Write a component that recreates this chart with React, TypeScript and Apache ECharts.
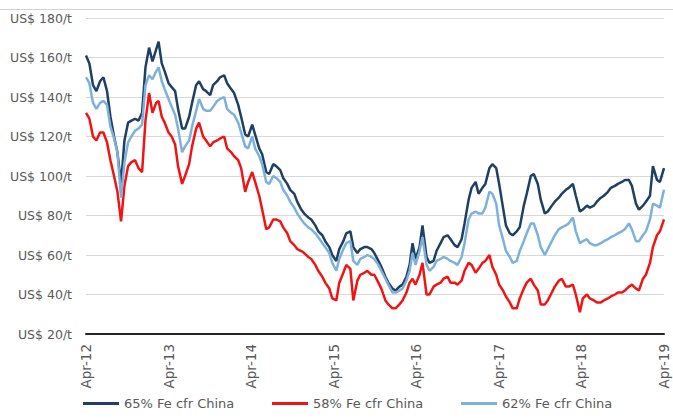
import React, { useEffect, useRef } from "react";
import * as echarts from "echarts";

// Iron ore fines price, cfr China, semi-monthly observations
const dates = [
  "2012-04-01","2012-04-16","2012-05-02","2012-05-17","2012-06-02","2012-06-17","2012-07-03","2012-07-18","2012-08-03","2012-08-18","2012-09-03","2012-09-18","2012-10-04","2012-10-19","2012-11-04","2012-11-19","2012-12-05","2012-12-20",
  "2013-01-05","2013-01-20","2013-02-05","2013-02-16","2013-03-02","2013-03-15","2013-04-01","2013-04-15","2013-04-30","2013-05-13","2013-05-31","2013-06-13","2013-07-01","2013-07-14","2013-08-01","2013-08-14","2013-09-01","2013-09-14","2013-10-02","2013-10-15","2013-11-02","2013-11-15","2013-12-03","2013-12-16",
  "2014-01-03","2014-01-16","2014-02-03","2014-02-16","2014-03-06","2014-03-19","2014-04-06","2014-04-19","2014-05-07","2014-05-20","2014-06-07","2014-06-20","2014-07-08","2014-07-21","2014-08-08","2014-08-21","2014-09-08","2014-09-21","2014-10-09","2014-10-22","2014-11-09","2014-11-22","2014-12-10","2014-12-23",
  "2015-01-10","2015-01-23","2015-02-10","2015-02-23","2015-03-13","2015-03-26","2015-04-13","2015-04-26","2015-05-14","2015-05-27","2015-06-14","2015-06-27","2015-07-15","2015-07-28","2015-08-15","2015-08-28","2015-09-15","2015-09-28","2015-10-16","2015-10-29","2015-11-16","2015-11-29","2015-12-17","2015-12-31",
  "2016-01-17","2016-01-31","2016-02-17","2016-03-02","2016-03-15","2016-03-28","2016-04-15","2016-04-28","2016-05-16","2016-05-29","2016-06-16","2016-06-29","2016-07-17","2016-07-30","2016-08-17","2016-08-30","2016-09-17","2016-09-30","2016-10-18","2016-10-31","2016-11-18","2016-12-01","2016-12-19",
  "2017-01-01","2017-01-18","2017-01-31","2017-02-18","2017-03-03","2017-03-20","2017-04-02","2017-04-19","2017-05-02","2017-05-19","2017-06-01","2017-06-19","2017-07-02","2017-07-20","2017-08-02","2017-08-20","2017-09-02","2017-09-20","2017-10-03","2017-10-21","2017-11-03","2017-11-21","2017-12-04","2017-12-22",
  "2018-01-04","2018-01-22","2018-02-04","2018-02-22","2018-03-07","2018-03-25","2018-04-07","2018-04-25","2018-05-08","2018-05-26","2018-06-08","2018-06-26","2018-07-09","2018-07-27","2018-08-09","2018-08-27","2018-09-09","2018-09-27","2018-10-10","2018-10-28","2018-11-10","2018-11-28","2018-12-11","2018-12-29",
  "2019-01-11","2019-01-29","2019-02-11","2019-03-01","2019-03-14","2019-04-01",
];

// 65% Fe cfr China, US$/t
const fe65 = [
  161,157,146,143,148,150,143,130,120,112,96,118,127,128,129,128,132,155,
  165,158,164,168,157,153,147,145,143,134,124,124,130,137,146,148,144,143,141,146,148,150,151,147,
  144,142,136,130,121,120,126,121,114,111,102,101,106,105,103,99,96,93,91,87,83,81,79,78,
  75,72,70,67,64,60,57,63,67,71,72,64,61,63,64,64,63,61,57,54,49,46,43,42,
  44,45,49,55,66,58,64,75,59,56,57,62,66,69,70,68,65,64,68,76,88,94,97,
  91,94,96,104,106,104,96,84,75,71,70,72,74,85,91,100,101,96,88,81,82,85,87,89,
  91,93,94,96,90,82,83,85,84,85,87,89,90,92,94,95,96,97,98,98,95,86,83,85,
  87,90,105,98,97,104,
];

// 58% Fe cfr China, US$/t
const fe58 = [
  132,129,120,118,122,122,117,108,100,92,77,95,105,107,108,104,102,128,
  142,132,137,138,130,127,122,120,116,105,96,100,106,115,124,127,120,118,115,117,118,119,120,114,
  112,110,108,104,92,97,102,97,90,83,73,74,78,78,77,74,71,67,65,63,62,61,59,58,
  55,52,49,46,43,38,37,46,51,55,53,37,47,50,51,52,50,50,46,43,37,35,33,33,
  35,37,41,46,48,45,50,56,40,40,44,45,46,48,49,46,46,45,47,52,56,55,51,
  53,56,57,60,54,50,45,42,39,36,33,33,38,43,46,48,45,42,35,35,37,41,44,47,
  48,44,44,45,40,31,38,40,38,37,36,36,37,38,39,40,41,41,42,44,45,43,42,48,
  50,56,64,70,72,78,
];

// 62% Fe cfr China, US$/t
const fe62 = [
  150,147,137,134,137,138,136,125,119,112,89,107,117,120,123,124,126,146,
  151,149,153,155,148,144,139,135,131,124,112,115,118,125,133,139,134,133,133,135,138,139,140,134,
  132,131,127,122,115,114,120,114,110,106,97,96,100,99,97,93,90,87,84,81,78,76,74,73,
  71,69,66,64,61,56,52,58,63,66,67,57,55,58,59,60,59,58,55,52,48,45,41,41,
  42,43,47,52,61,55,62,69,55,52,54,57,58,59,58,57,56,55,59,66,78,81,82,
  81,81,84,92,91,86,75,68,62,59,56,57,62,67,71,76,76,70,64,60,63,67,70,73,
  74,75,76,79,72,66,67,68,66,65,65,66,67,68,69,70,71,72,73,76,73,67,67,70,
  72,78,86,85,84,93,
];

const seriesNames = ["65% Fe cfr China", "58% Fe cfr China", "62% Fe cfr China"];
const seriesColors = ["#1f3f63", "#f01414", "#7db1db"];
const axisStart = "2012-04-01";
const axisEnd = "2019-04-01";
const yTicks = { min: 20, max: 180, step: 20 };

const FONT = "DejaVu Sans";
const TEXT = "#595959";

export default function App() {
  const ref = useRef<HTMLDivElement>(null);

  useEffect(() => {
    if (!ref.current) return;
    const chart = echarts.init(ref.current, undefined, { renderer: "svg" });
    const t0 = Date.parse(axisStart);
    const t1 = Date.parse(axisEnd);
    const pair = (vals: number[]) => dates.map((d, i) => [Date.parse(d), vals[i]]);
    const values = [fe65, fe58, fe62];
    const legendLeft = [83, 272, 461];

    chart.setOption({
      animation: false,
      backgroundColor: "#ffffff",
      grid: { left: 86, right: 9, top: 18, bottom: 84 },
      xAxis: {
        type: "value",
        min: t0,
        max: t1,
        interval: (t1 - t0) / 7,
        axisLine: { show: true, lineStyle: { color: "#262626", width: 2 } },
        axisTick: { show: false },
        splitLine: { show: false },
        axisLabel: {
          rotate: 90,
          margin: 10,
          color: TEXT,
          fontFamily: FONT,
          fontSize: 13.5,
          formatter: (v: number) => {
            const yr = new Date(v + 15 * 86400000).getUTCFullYear();
            return "Apr-" + String(yr).slice(2);
          },
        },
      },
      yAxis: {
        type: "value",
        min: yTicks.min,
        max: yTicks.max,
        interval: yTicks.step,
        axisLine: { show: false },
        axisTick: { show: false },
        splitLine: { lineStyle: { color: "#d9d9d9", width: 1 } },
        axisLabel: {
          margin: 14,
          color: TEXT,
          fontFamily: FONT,
          fontSize: 12.5,
          formatter: "US$ {value}/t",
        },
      },
      legend: seriesNames.map((name, i) => ({
        data: [name],
        left: legendLeft[i],
        top: 397,
        padding: 0,
        icon: "rect",
        itemWidth: 36,
        itemHeight: 3,
        textStyle: { color: TEXT, fontFamily: FONT, fontSize: 13 },
      })),
      graphic: [
        {
          type: "line",
          shape: { x1: 0, y1: 9.5, x2: 673, y2: 9.5 },
          style: { stroke: "#d4d4d4", lineWidth: 1 },
          silent: true,
        },
      ],
      series: seriesNames.map((name, i) => ({
        name,
        type: "line",
        data: pair(values[i]),
        showSymbol: false,
        color: seriesColors[i],
        lineStyle: { color: seriesColors[i], width: 2.5 },
      })),
    });

    return () => chart.dispose();
  }, []);

  return (
    <div
      ref={ref}
      style={{ position: "fixed", left: 0, top: 0, width: 673, height: 418, background: "#fff" }}
    />
  );
}
